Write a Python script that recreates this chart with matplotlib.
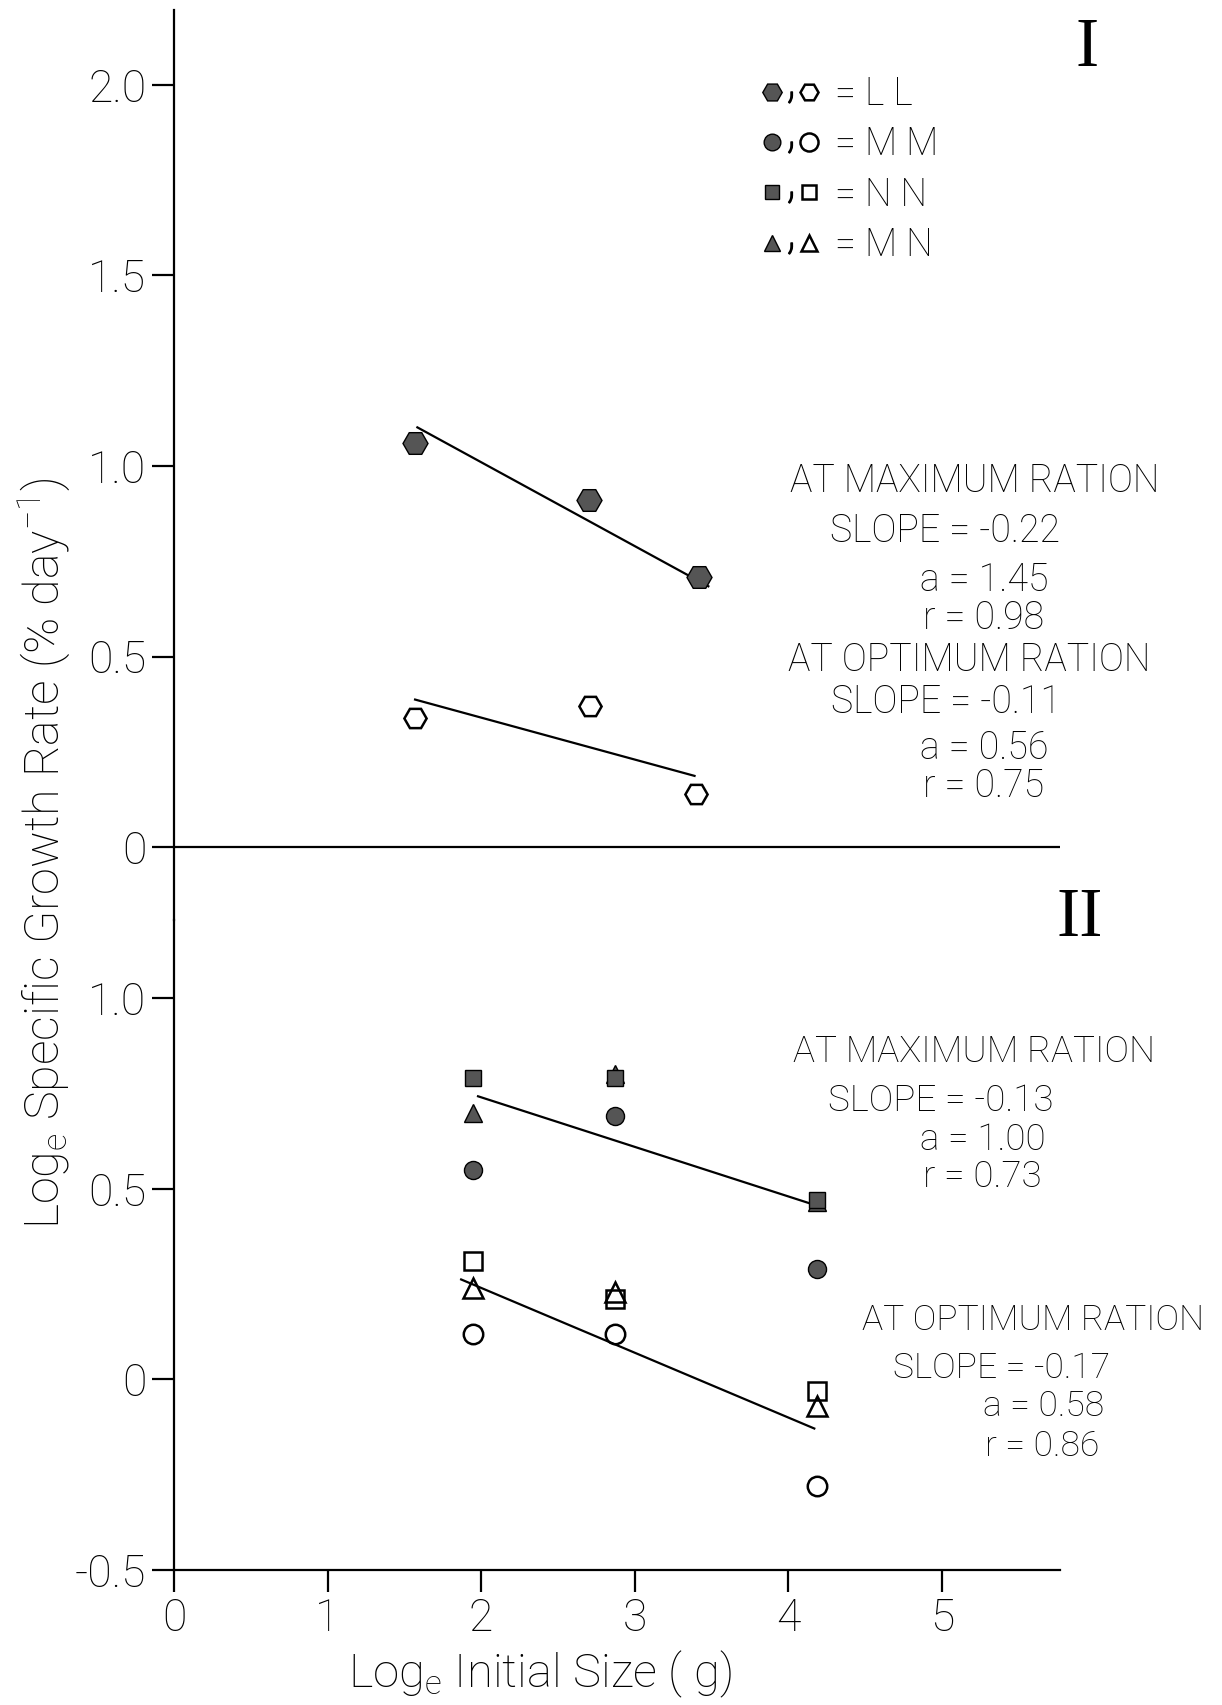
import matplotlib.pyplot as plt
from matplotlib.lines import Line2D
from matplotlib.markers import MarkerStyle
from matplotlib.transforms import Affine2D
from matplotlib.legend_handler import HandlerTuple

plt.rcParams['font.family'] = ['Roboto', 'DejaVu Sans']
plt.rcParams['font.weight'] = 'light'
plt.rcParams['mathtext.default'] = 'regular'

# --- Panel I: LL fish, loge initial size vs loge specific growth rate ---
ll_x_max = [1.57, 2.70, 3.42]
ll_max = [1.06, 0.91, 0.71]
ll_x_opt = [1.57, 2.71, 3.40]
ll_opt = [0.34, 0.37, 0.14]

# regression results printed on panel I (max ration, optimum ration)
slope_I = [-0.22, -0.11]
a_I = [1.45, 0.56]
r_I = [0.98, 0.75]
fit_span_I = [(1.585, 3.48), (1.57, 3.39)]

# --- Panel II: MM, NN, MN fish ---
size_x = [1.95, 2.87, 4.19]
mm_max = [0.55, 0.69, 0.29]
nn_max = [0.79, 0.79, 0.47]
mn_max = [0.70, 0.80, 0.465]
mm_opt = [0.12, 0.12, -0.28]
nn_opt = [0.31, 0.21, -0.03]
mn_opt = [0.24, 0.23, -0.07]

slope_II = [-0.13, -0.17]
a_II = [1.00, 0.58]
r_II = [0.73, 0.86]
fit_span_II = [(1.98, 4.14), (1.87, 4.17)]

GREY = '#555555'
LW = 1.6

fig = plt.figure(figsize=(12.22, 17.05), dpi=100)
ax1 = fig.add_axes([0.1424, 0.4604, 0.725, 0.5337])
ax2 = fig.add_axes([0.1424, 0.0792, 0.725, 0.3812])

for ax in (ax1, ax2):
    ax.set_xlim(0, 5.77)
    ax.spines['top'].set_visible(False)
    ax.spines['right'].set_visible(False)
    ax.spines['left'].set_linewidth(LW)
    ax.spines['bottom'].set_linewidth(LW)
    ax.tick_params(direction='out', length=16, width=LW, pad=4, labelsize=32)
    ax.patch.set_visible(False)

ax1.set_ylim(-0.191, 2.196)
ax1.spines['bottom'].set_visible(False)
ax1.set_xticks([])
ax1.set_yticks([0, 0.5, 1.0, 1.5, 2.0], ['0', '0.5', '1.0', '1.5', '2.0'])
ax1.axhline(0, color='k', lw=LW)

ax2.set_ylim(-0.5, 1.205)
ax2.set_yticks([-0.5, 0, 0.5, 1.0], ['-0.5', '0', '0.5', '1.0'])
ax2.set_xticks(range(6), [str(i) for i in range(6)])


def fit_line(ax, slope, a, span):
    x0, x1 = span
    ax.plot([x0, x1], [a + slope * x0, a + slope * x1], color='k', lw=LW)


filled = dict(ls='none', color=GREY, mec='k', mew=1.0)
hollow = dict(ls='none', mfc='none', mec='k', mew=1.8)

# panel I
for s, a, span in zip(slope_I, a_I, fit_span_I):
    fit_line(ax1, s, a, span)
ax1.plot(ll_x_max, ll_max, marker='H', ms=18, **filled)
ax1.plot(ll_x_opt, ll_opt, marker='H', ms=16, **hollow)

# panel II
for s, a, span in zip(slope_II, a_II, fit_span_II):
    fit_line(ax2, s, a, span)
ax2.plot(size_x, mn_max, marker='^', ms=13, **filled)
ax2.plot(size_x, nn_max, marker='s', ms=12, **filled)
ax2.plot(size_x, mm_max, marker='o', ms=13, **filled)
ax2.plot(size_x, mn_opt, marker='^', ms=14, **hollow)
ax2.plot(size_x, nn_opt, marker='s', ms=13, **hollow)
ax2.plot(size_x, mm_opt, marker='o', ms=14, **hollow)


# regression annotations
def stats_block(ax, pos, title, slope, a, r, size=27):
    txt = dict(fontsize=size, ha='left', va='center')
    (xt, yt), (xs, ys), (xa, ya), (xr, yr) = pos
    ax.text(xt, yt, title, **txt)
    ax.text(xs, ys, f'SLOPE = -{abs(slope):.2f}', **txt)
    ax.text(xa, ya, f'a = {a:.2f}', **txt)
    ax.text(xr, yr, f'r = {r:.2f}', **txt)


stats_block(ax1, [(4.01, 0.96), (4.27, 0.83), (4.86, 0.70), (4.88, 0.60)],
            'AT MAXIMUM RATION', slope_I[0], a_I[0], r_I[0])
stats_block(ax1, [(4.00, 0.49), (4.28, 0.38), (4.86, 0.26), (4.88, 0.16)],
            'AT OPTIMUM RATION', slope_I[1], a_I[1], r_I[1])
stats_block(ax2, [(4.03, 0.86), (4.26, 0.73), (4.86, 0.627), (4.88, 0.53)],
            'AT MAXIMUM RATION', slope_II[0], a_II[0], r_II[0], size=26.5)
stats_block(ax2, [(4.48, 0.155), (4.68, 0.03), (5.27, -0.07), (5.28, -0.175)],
            'AT OPTIMUM RATION', slope_II[1], a_II[1], r_II[1], size=25.5)

# key
comma = Line2D([], [], ls='none', color='k', ms=8,
               marker=MarkerStyle('$,$', transform=Affine2D().translate(0, -0.45)))
key_handles = [
    (Line2D([], [], marker='H', ms=14, **filled), comma, Line2D([], [], marker='H', ms=13, **hollow)),
    (Line2D([], [], marker='o', ms=12, **filled), comma, Line2D([], [], marker='o', ms=13, **hollow)),
    (Line2D([], [], marker='s', ms=10, **filled), comma, Line2D([], [], marker='s', ms=10, **hollow)),
    (Line2D([], [], marker='^', ms=11, **filled), comma, Line2D([], [], marker='^', ms=12, **hollow)),
]
key_labels = ['= L L', '= M M', '= N N', '= M N']
ax1.legend(key_handles, key_labels, handler_map={tuple: HandlerTuple(ndivide=None, pad=0.0)},
           frameon=False, loc='upper left', bbox_to_anchor=(0.664, 0.928), fontsize=27,
           handlelength=1.5, handletextpad=0.45, labelspacing=0.34, borderpad=0, borderaxespad=0)

# panel numerals and axis titles
fig.text(1087 / 1222, 1 - 49 / 1705, 'I', family='Liberation Serif', fontsize=50,
         ha='center', va='center')
fig.text(1080 / 1222, 1 - 919 / 1705, 'II', family='Liberation Serif', fontsize=50,
         ha='center', va='center')
fig.text(44 / 1222, 1 - 853 / 1705, r'Log$_e$ Specific Growth Rate (% day$^{-1}$)',
         rotation=90, ha='center', va='center', fontsize=35)
fig.text(540 / 1222, 1 - 1674 / 1705, r'Log$_e$ Initial Size ( g)',
         ha='center', va='center', fontsize=34)

fig.savefig('out.png', dpi=100)
